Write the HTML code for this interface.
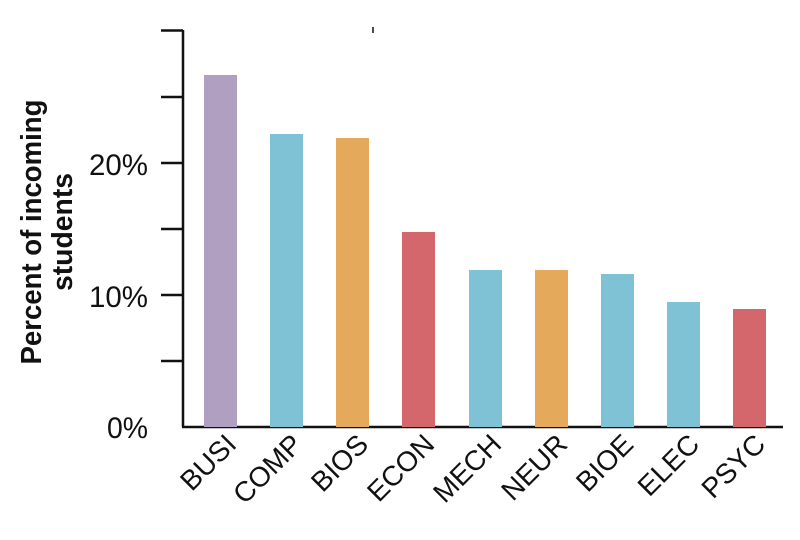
<!DOCTYPE html>
<html><head><style>
body{margin:0;background:#fff}
svg text{font-family:"Liberation Sans",sans-serif;fill:#111}
</style></head><body>
<svg width="800" height="535" viewBox="0 0 800 535" xmlns="http://www.w3.org/2000/svg">
<g fill="none" stroke="#111" stroke-width="2.5">
<line x1="183" y1="30" x2="183" y2="427"/>
<line x1="182" y1="427" x2="783" y2="427"/>
<line x1="161" y1="30.5" x2="183" y2="30.5"/>
<line x1="161" y1="97" x2="183" y2="97"/>
<line x1="161" y1="163" x2="183" y2="163"/>
<line x1="161" y1="229" x2="183" y2="229"/>
<line x1="161" y1="295" x2="183" y2="295"/>
<line x1="161" y1="361" x2="183" y2="361"/>
<line x1="373" y1="27" x2="373" y2="33" stroke-width="1.5"/>
</g>
<g font-size="30" text-anchor="end">
<text x="148" y="438" textLength="41" lengthAdjust="spacingAndGlyphs">0%</text>
<text x="148" y="307" textLength="59" lengthAdjust="spacingAndGlyphs">10%</text>
<text x="148" y="175" textLength="59" lengthAdjust="spacingAndGlyphs">20%</text>
</g>
<text font-size="29" font-weight="bold" text-anchor="middle" transform="translate(41,232) rotate(-90)" textLength="265" lengthAdjust="spacingAndGlyphs">Percent of incoming</text>
<text font-size="29" font-weight="bold" text-anchor="middle" transform="translate(72,232) rotate(-90)" textLength="118" lengthAdjust="spacingAndGlyphs">students</text>
<rect x="204" y="75" width="33" height="352" fill="#b09fc0"/>
<rect x="270" y="134" width="33" height="293" fill="#80c2d5"/>
<rect x="336" y="138" width="33" height="289" fill="#e5a95c"/>
<rect x="402" y="232" width="33" height="195" fill="#d4676c"/>
<rect x="469" y="270" width="33" height="157" fill="#80c2d5"/>
<rect x="535" y="270" width="33" height="157" fill="#e5a95c"/>
<rect x="601" y="274" width="33" height="153" fill="#80c2d5"/>
<rect x="667" y="302" width="33" height="125" fill="#80c2d5"/>
<rect x="733" y="309" width="33" height="118" fill="#d4676c"/>
<g font-size="28" text-anchor="end">
<text transform="translate(238,446) rotate(-45)">BUSI</text>
<text transform="translate(304,446) rotate(-45)">COMP</text>
<text transform="translate(370,446) rotate(-45)">BIOS</text>
<text transform="translate(436,446) rotate(-45)">ECON</text>
<text transform="translate(503,446) rotate(-45)">MECH</text>
<text transform="translate(569,446) rotate(-45)">NEUR</text>
<text transform="translate(635,446) rotate(-45)">BIOE</text>
<text transform="translate(701,446) rotate(-45)">ELEC</text>
<text transform="translate(767,446) rotate(-45)">PSYC</text>
</g>
</svg>
</body></html>
